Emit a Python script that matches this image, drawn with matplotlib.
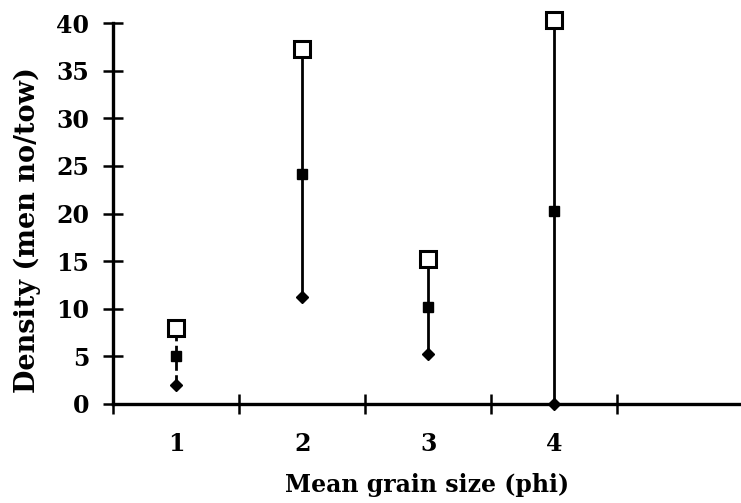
import numpy as np
from matplotlib import pyplot as plt

# grain size classes (phi) and density range per class
phi = [1, 2, 3, 4]
high = [8.0, 37.3, 15.2, 40.3]
mean = [5.0, 24.2, 10.2, 20.3]
low = [2.0, 11.2, 5.2, 0.0]
link_style = ['--', '-', '-', '-']

yticks = [0, 5, 10, 15, 20, 25, 30, 35, 40]
xticks_minor = [0.5, 1.5, 2.5, 3.5, 4.5]

plt.rcParams['font.family'] = 'DejaVu Serif'
plt.rcParams['font.weight'] = 'bold'

fig = plt.figure(figsize=(7.41, 5.03), dpi=100)
ax = fig.add_axes([0.1525, 0.197, 0.8475, 0.757])

for x, h, m, l, ls in zip(phi, high, mean, low, link_style):
    ax.plot([x, x], [l, h], color='black', lw=2, ls=ls, clip_on=False, zorder=2)
ax.plot(phi, low, 'D', color='black', ms=6, clip_on=False, zorder=3)
ax.plot(phi, mean, 's', color='black', ms=7, clip_on=False, zorder=3)
ax.plot(phi, high, 's', color='black', mfc='white', mew=2.2, ms=11.5, clip_on=False, zorder=4)

ax.set_xlim(0.5, 5.48)
ax.set_ylim(0, 40)
ax.spines['top'].set_visible(False)
ax.spines['right'].set_visible(False)
ax.spines['left'].set_linewidth(2.4)
ax.spines['bottom'].set_linewidth(2.4)

ax.set_yticks(yticks)
ax.set_yticklabels([str(v) for v in yticks], fontsize=17, fontweight='bold')
ax.set_xticks(xticks_minor)
ax.set_xticklabels([''] * len(xticks_minor))
ax.set_xticks(phi, minor=True)
ax.set_xticklabels([str(v) for v in phi], minor=True, fontsize=17, fontweight='bold')
ax.tick_params(axis='both', which='major', direction='inout', length=14, width=1.8)
ax.tick_params(axis='y', pad=10)
ax.tick_params(axis='x', which='minor', length=0, pad=20)

ax.set_ylabel('Density (men no/tow)', fontsize=19.5, fontweight='bold', labelpad=11)
ax.yaxis.label.set_y(0.457)
ax.set_xlabel('Mean grain size (phi)', fontsize=17, fontweight='bold', labelpad=12.5)

plt.savefig('out.png', dpi=100)
